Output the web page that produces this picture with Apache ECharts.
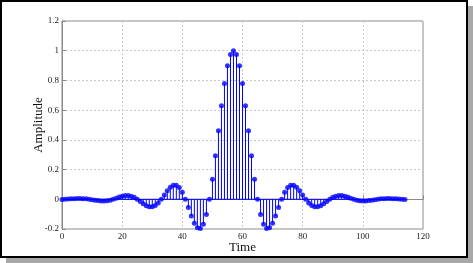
<!DOCTYPE html>
<html>
<head>
<meta charset="utf-8">
<script src="https://cdn.jsdelivr.net/npm/echarts@6/dist/echarts.min.js"></script>
<style>
html,body{margin:0;padding:0;background:#fff;}
#c{width:473px;height:263px;}
</style>
</head>
<body>
<div id="c"></div>
<script>
// sample index (Time)
var times = [];
for (var i = 0; i <= 114; i++) times.push(i);
// left half amplitudes, Time 0..57
var ampLeft = [
  -0.001, 0.000, 0.002, 0.003, 0.004, 0.005, 0.005, 0.004, 0.003, 0.000,
  -0.003, -0.006, -0.009, -0.011, -0.012, -0.010, -0.006, 0.000, 0.007, 0.015,
  0.021, 0.025, 0.026, 0.021, 0.013, 0.000, -0.015, -0.030, -0.043, -0.050,
  -0.050, -0.042, -0.025, 0.000, 0.029, 0.057, 0.081, 0.095, 0.095, 0.079,
  0.047, 0.000, -0.055, -0.112, -0.161, -0.192, -0.196, -0.168, -0.102, 0.000,
  0.135, 0.293, 0.462, 0.630, 0.779, 0.898, 0.974, 1.000
];
// right half amplitudes, Time 58..114
var ampRight = [
  0.974, 0.898, 0.779, 0.630, 0.462, 0.293, 0.135, 0.000, -0.102, -0.168,
  -0.196, -0.192, -0.161, -0.112, -0.055, 0.000, 0.047, 0.079, 0.095, 0.095,
  0.081, 0.057, 0.029, 0.000, -0.025, -0.042, -0.050, -0.050, -0.043, -0.030,
  -0.015, 0.000, 0.013, 0.021, 0.026, 0.025, 0.021, 0.015, 0.007, 0.000,
  -0.006, -0.010, -0.012, -0.011, -0.009, -0.006, -0.003, 0.000, 0.003, 0.004,
  0.005, 0.005, 0.004, 0.003, 0.002, 0.000, -0.001
];
var amps = ampLeft.concat(ampRight);
var xTicks = [0, 20, 40, 60, 80, 100, 120];
var yTicks = [-0.2, 0, 0.2, 0.4, 0.6, 0.8, 1, 1.2];

var pts = times.map(function (t, i) { return [t, amps[i]]; });

var serif = '"Liberation Serif", "DejaVu Serif", serif';
var chart = echarts.init(document.getElementById('c'), null, {renderer: 'canvas'});
chart.setOption({
  animation: false,
  backgroundColor: '#fff',
  grid: {left: 62, right: 50, top: 21, bottom: 34, show: true, borderColor: '#8a8a8a', borderWidth: 1, backgroundColor: 'transparent'},
  xAxis: {
    type: 'value', min: xTicks[0], max: xTicks[xTicks.length - 1], interval: 20,
    name: 'Time', nameLocation: 'middle', nameGap: 12, nameMoveOverlap: false,
    nameTextStyle: {fontFamily: serif, fontSize: 13, color: '#111', verticalAlign: 'top'},
    axisLine: {show: true, lineStyle: {color: '#8a8a8a', width: 1}},
    axisTick: {show: true, inside: true, length: 4, lineStyle: {color: '#8a8a8a'}},
    axisLabel: {fontFamily: serif, fontSize: 9, color: '#222', margin: 3},
    splitLine: {show: true, lineStyle: {color: '#c8c8c8', type: [2, 2], width: 1}}
  },
  yAxis: {
    type: 'value', min: yTicks[0], max: yTicks[yTicks.length - 1], interval: 0.2,
    name: 'Amplitude', nameLocation: 'middle', nameGap: 17, nameMoveOverlap: false,
    nameTextStyle: {fontFamily: serif, fontSize: 13, color: '#111'},
    axisLine: {show: true, lineStyle: {color: '#8a8a8a', width: 1}},
    axisTick: {show: true, inside: true, length: 4, lineStyle: {color: '#8a8a8a'}},
    axisLabel: {fontFamily: serif, fontSize: 9, color: '#222', margin: 3,
      formatter: function (v) { return String(Math.round(v * 10) / 10); }},
    splitLine: {show: true, lineStyle: {color: '#c8c8c8', type: [2, 2], width: 1}}
  },
  series: [
    {
      type: 'line', data: [[times[0], 0], [times[times.length - 1], 0]],
      symbol: 'none', lineStyle: {color: '#0000ff', width: 1}, silent: true, z: 2
    },
    {
      type: 'bar', data: pts, barWidth: 1, barGap: '-100%',
      itemStyle: {color: '#0000ff'}, silent: true, z: 3
    },
    {
      type: 'scatter', data: pts, symbol: 'circle', symbolSize: 5,
      itemStyle: {color: '#0000ff'}, silent: true, z: 4
    }
  ],
  graphic: [
    {type: 'rect', shape: {x: 6, y: 258, width: 467, height: 5}, style: {fill: '#a8a8a8'}, silent: true},
    {type: 'rect', shape: {x: 468, y: 6, width: 5, height: 257}, style: {fill: '#a8a8a8'}, silent: true},
    {type: 'rect', shape: {x: 1, y: 1, width: 466, height: 256}, style: {fill: 'none', stroke: '#000', lineWidth: 2}, silent: true}
  ]
});
</script>
</body>
</html>
